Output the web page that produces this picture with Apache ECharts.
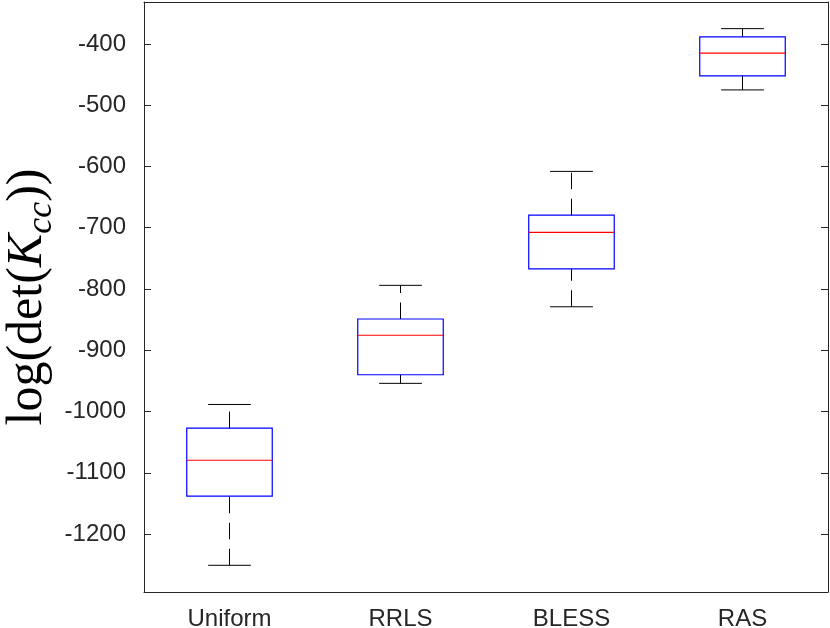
<!DOCTYPE html>
<html>
<head>
<meta charset="utf-8">
<script src="https://cdn.jsdelivr.net/npm/echarts@6/dist/echarts.min.js"></script>
<style>
  html, body { margin: 0; padding: 0; background: #fff; }
  #chart { width: 830px; height: 628px; }
</style>
</head>
<body>
<div id="chart"></div>
<script>
// Box statistics: lower whisker, Q1, median, Q3, upper whisker
const categories = ["Uniform", "RRLS", "BLESS", "RAS"];
const lowerWhisker = [-1251, -954, -829, -475];
const q1Values     = [-1138, -940, -767, -452];
const medians      = [-1079.5, -875.5, -707.5, -415];
const q3Values     = [-1027, -849, -679.5, -388.5];
const upperWhisker = [-988.5, -794, -608, -375];
const yTicks = [-1200, -1100, -1000, -900, -800, -700, -600, -500, -400];
const yMin = -1294.6;
const yMax = -331.5;

const axisColor = "#262626";
const boxData = categories.map((c, i) => [
  i, lowerWhisker[i], q1Values[i], medians[i], q3Values[i], upperWhisker[i],
]);

function renderBox(params, api) {
  const idx = api.value(0);
  const band = api.size([1, 0])[0];
  const x = api.coord([idx, api.value(3)])[0];
  const yLw = api.coord([idx, api.value(1)])[1];
  const yQ1 = api.coord([idx, api.value(2)])[1];
  const yMed = api.coord([idx, api.value(3)])[1];
  const yQ3 = api.coord([idx, api.value(4)])[1];
  const yUw = api.coord([idx, api.value(5)])[1];
  const halfBox = band * 0.25;
  const halfCap = band * 0.125;
  const dash = { stroke: "#000", lineWidth: 1, lineDash: [16.5, 9.5] };
  const solid = { stroke: "#000", lineWidth: 1 };
  return {
    type: "group",
    children: [
      // whiskers are dashed, drawn from the lower value upwards
      { type: "line", shape: { x1: x, y1: yLw, x2: x, y2: yQ1 }, style: dash },
      { type: "line", shape: { x1: x, y1: yQ3, x2: x, y2: yUw }, style: dash },
      { type: "line", shape: { x1: x - halfCap, y1: yLw, x2: x + halfCap, y2: yLw }, style: solid },
      { type: "line", shape: { x1: x - halfCap, y1: yUw, x2: x + halfCap, y2: yUw }, style: solid },
      {
        type: "rect",
        shape: { x: x - halfBox, y: yQ3, width: halfBox * 2, height: yQ1 - yQ3 },
        style: { fill: "none", stroke: "#0000ff", lineWidth: 1.2 },
      },
      {
        type: "line",
        shape: { x1: x - halfBox, y1: yMed, x2: x + halfBox, y2: yMed },
        style: { stroke: "#ff0000", lineWidth: 1.2 },
      },
    ],
  };
}

const chart = echarts.init(document.getElementById("chart"));

chart.setOption({
  animation: false,
  grid: { left: 144, top: 2, width: 684, height: 590, outerBoundsMode: "none" },
  xAxis: [
    {
      type: "category",
      data: categories,
      position: "bottom",
      axisLine: { lineStyle: { color: axisColor, width: 1 } },
      axisTick: { inside: true, length: 7, alignWithLabel: true, lineStyle: { color: axisColor } },
      axisLabel: { color: axisColor, fontFamily: "Liberation Sans", fontSize: 24, margin: 15 },
      splitLine: { show: false },
    },
    {
      type: "category",
      data: categories,
      position: "top",
      axisLine: { lineStyle: { color: axisColor, width: 1 } },
      axisTick: { inside: true, length: 7, alignWithLabel: true, lineStyle: { color: axisColor } },
      axisLabel: { show: false },
    },
  ],
  yAxis: [
    {
      type: "value",
      position: "left",
      min: yMin,
      max: yMax,
      axisLine: { show: true, lineStyle: { color: axisColor, width: 1 } },
      axisTick: { show: true, inside: true, length: 7, customValues: yTicks, lineStyle: { color: axisColor } },
      axisLabel: {
        color: axisColor, fontFamily: "Liberation Sans", fontSize: 24, margin: 18,
        customValues: yTicks,
        formatter: (v) => String(v),
      },
      splitLine: { show: false },
      name: "{a|log(det(}{k|K}{s|cc}{a|))}",
      nameLocation: "middle",
      nameRotate: 90,
      nameGap: 84,
      nameMoveOverlap: false,
      nameTextStyle: {
        rich: {
          a: { fontFamily: "Liberation Serif", fontSize: 50, color: "#000", lineHeight: 64, verticalAlign: "middle" },
          k: { fontFamily: "Liberation Serif", fontStyle: "italic", fontSize: 50, color: "#000", lineHeight: 64, verticalAlign: "middle" },
          s: { fontFamily: "Liberation Serif", fontStyle: "italic", fontSize: 36, color: "#000", lineHeight: 64, verticalAlign: "bottom" },
        },
      },
    },
    {
      type: "value",
      position: "right",
      min: yMin,
      max: yMax,
      axisLine: { show: true, lineStyle: { color: axisColor, width: 1 } },
      axisTick: { show: true, inside: true, length: 7, customValues: yTicks, lineStyle: { color: axisColor } },
      axisLabel: { show: false },
      splitLine: { show: false },
    },
  ],
  series: [
    {
      type: "custom",
      xAxisIndex: 0,
      yAxisIndex: 0,
      renderItem: renderBox,
      encode: { x: 0, y: [1, 2, 3, 4, 5] },
      data: boxData,
      z: 5,
    },
  ],
});
</script>
</body>
</html>
